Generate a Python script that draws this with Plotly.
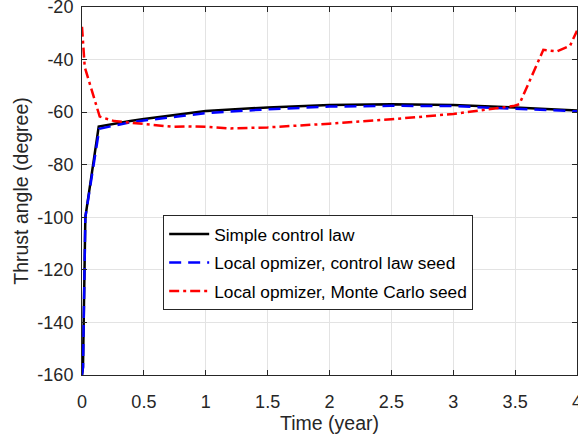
import plotly.graph_objects as go

# Simple control law
t_black = [0.0, 0.008, 0.027, 0.135, 0.39, 0.5, 1.0, 1.5, 2.0, 2.5, 3.0, 3.5, 4.0]
y_black = [-160.0, -157.0, -100.0, -65.5, -63.4, -62.6, -59.6, -58.2, -57.3, -57.0, -57.3, -58.2, -59.4]

# Local optimizer, control law seed
t_blue = [0.0, 0.008, 0.027, 0.14, 0.39, 0.5, 1.0, 1.5, 2.0, 2.5, 3.0, 3.5, 4.0]
y_blue = [-160.0, -157.0, -100.0, -66.3, -63.9, -63.2, -60.4, -58.9, -57.9, -57.6, -57.7, -58.6, -59.7]

# Local optimizer, Monte Carlo seed
t_red = [0.0, 0.022, 0.143, 0.26, 0.39, 0.5, 0.74, 0.85, 1.0, 1.2, 1.5, 2.0, 2.5, 3.0, 3.485, 3.534, 3.728, 3.836, 3.943, 4.0]
y_red = [-27.5, -42.8, -61.7, -63.4, -64.0, -64.5, -65.6, -65.4, -65.6, -66.2, -65.8, -64.4, -62.7, -60.7, -57.7, -57.0, -36.3, -36.9, -34.8, -29.0]

x_ticks = [0, 0.5, 1, 1.5, 2, 2.5, 3, 3.5, 4]
x_tick_labels = ["0", "0.5", "1", "1.5", "2", "2.5", "3", "3.5", "4"]
y_ticks = [-160, -140, -120, -100, -80, -60, -40, -20]
y_tick_labels = ["-160", "-140", "-120", "-100", "-80", "-60", "-40", "-20"]

names = ["Simple control law", "Local opmizer, control law seed", "Local opmizer, Monte Carlo seed"]

FONT = "Liberation Sans, Arial, Helvetica, sans-serif"
TXT = "#262626"

fig = go.Figure()
fig.add_trace(go.Scatter(x=t_black, y=y_black, mode="lines", name=names[0], legendgroup="a",
                         line=dict(color="#000000", width=2.5)))
fig.add_trace(go.Scatter(x=t_blue, y=y_blue, mode="lines", name=names[1], legendgroup="b",
                         line=dict(color="#0000ff", width=2.5, dash="12px,7px")))
fig.add_trace(go.Scatter(x=t_red, y=y_red, mode="lines", name=names[2], legendgroup="c",
                         line=dict(color="#ff0000", width=2.5, dash="10px,4px,3px,4px")))

axis_common = dict(
    showline=True, linecolor=TXT, linewidth=1, mirror="ticks",
    ticks="inside", ticklen=5, tickcolor=TXT, tickwidth=1,
    showgrid=True, gridcolor="#e3e3e3", gridwidth=1, zeroline=False,
    tickfont=dict(family=FONT, size=18, color=TXT),
    ticklabeloverflow="allow", automargin=False,
)

fig.update_layout(
    width=578, height=436,
    margin=dict(l=82, r=1, t=7, b=61),
    paper_bgcolor="white", plot_bgcolor="white",
    font=dict(family=FONT, color=TXT),
    xaxis=dict(range=[0, 4], tickvals=x_ticks, ticktext=x_tick_labels, ticklabelstandoff=10,
               title=dict(text="Time (year)", font=dict(family=FONT, size=19.5, color=TXT), standoff=0),
               **axis_common),
    yaxis=dict(range=[-160, -20], tickvals=y_ticks, ticktext=y_tick_labels, ticklabelstandoff=4,
               title=dict(text="Thrust angle (degree)", font=dict(family=FONT, size=19.5, color=TXT), standoff=3),
               **axis_common),
    legend=dict(x=0.164, y=0.434, xanchor="left", yanchor="top",
                bgcolor="white", bordercolor=TXT, borderwidth=1,
                font=dict(family=FONT, size=17.3, color="#000000"),
                tracegroupgap=3, itemwidth=40),
    showlegend=True,
)

fig.write_html("out.html", config={"displayModeBar": False},
               post_script="document.body.style.margin='0';document.body.style.padding='0';")
